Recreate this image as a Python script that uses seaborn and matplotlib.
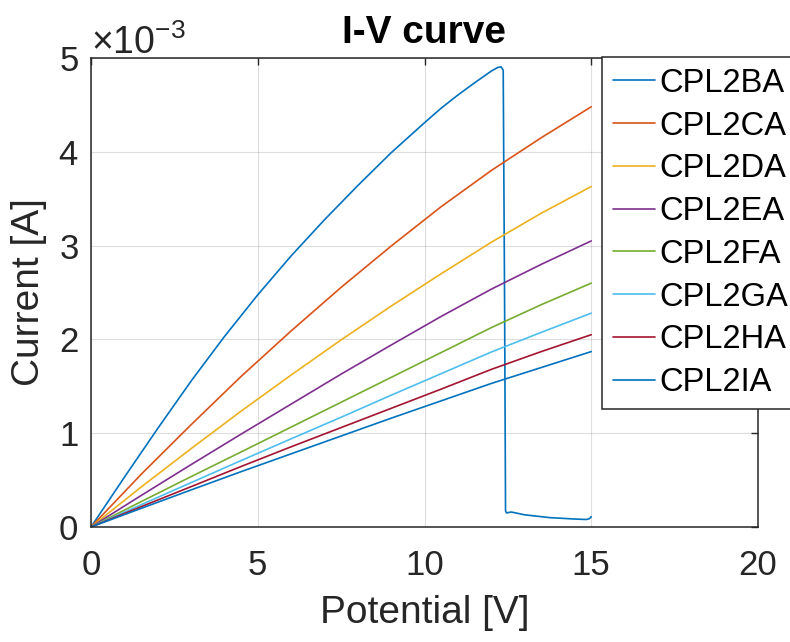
import numpy as np
import pandas as pd
import matplotlib
matplotlib.use("Agg")
import matplotlib.pyplot as plt
import matplotlib.ticker as mticker
import seaborn as sns

# ---- data (current in mA, plotted in A) ----
series_names = ["CPL2BA", "CPL2CA", "CPL2DA", "CPL2EA", "CPL2FA", "CPL2GA", "CPL2HA", "CPL2IA"]

v_ba = [0, 1, 2, 3, 4, 5, 6, 7, 8, 9, 10, 10.5, 11, 11.5, 11.8, 12.0, 12.2, 12.3, 12.36,
        12.40, 12.43, 12.46, 12.6, 13.0, 13.75, 14.5, 14.85, 14.95, 15.0]
i_ba = [0, 0.53, 1.05, 1.555, 2.03, 2.475, 2.89, 3.275, 3.64, 3.99, 4.31, 4.465, 4.605, 4.735, 4.81, 4.86, 4.90, 4.905, 4.87,
        2.50, 0.17, 0.15, 0.16, 0.13, 0.10, 0.085, 0.08, 0.09, 0.11]

v_std = [0, 1.5, 3, 4.5, 6, 7.5, 9, 10.5, 12, 13.5, 15]
i_ca = [0, 0.56, 1.09, 1.605, 2.09, 2.555, 2.995, 3.415, 3.80, 4.15, 4.48]
i_da = [0, 0.425, 0.835, 1.235, 1.62, 1.995, 2.355, 2.70, 3.035, 3.345, 3.63]
i_ea = [0, 0.335, 0.665, 0.99, 1.31, 1.63, 1.94, 2.245, 2.535, 2.80, 3.05]
i_fa = [0, 0.27, 0.537, 0.80, 1.065, 1.33, 1.595, 1.86, 2.125, 2.37, 2.60]
i_ga = [0, 0.237, 0.473, 0.708, 0.94, 1.17, 1.405, 1.635, 1.865, 2.075, 2.28]
i_ha = [0, 0.216, 0.43, 0.645, 0.855, 1.06, 1.265, 1.47, 1.68, 1.87, 2.05]
i_ia = [0, 0.198, 0.395, 0.59, 0.78, 0.97, 1.16, 1.345, 1.53, 1.70, 1.87]

colors = ["#0072BD", "#D95319", "#EDB120", "#7E2F8E", "#77AC30", "#4DBEEE", "#A2142F", "#0072BD"]

xs = [v_ba] + [v_std] * 7
ys = [i_ba, i_ca, i_da, i_ea, i_fa, i_ga, i_ha, i_ia]

rows = []
for name, vx, iy in zip(series_names, xs, ys):
    for k, (a, b) in enumerate(zip(vx, iy)):
        rows.append({"series": name, "order": k, "V": a, "I": b * 1e-3})
df = pd.DataFrame(rows)

# ---- style ----
sns.set_theme(style="white")
plt.rcParams["font.family"] = ["Liberation Sans", "DejaVu Sans"]
plt.rcParams["mathtext.fontset"] = "custom"
plt.rcParams["mathtext.rm"] = "Liberation Sans"
plt.rcParams["mathtext.it"] = "Liberation Sans"
plt.rcParams["mathtext.bf"] = "Liberation Sans:bold"
dark = "#262626"

fig = plt.figure(figsize=(7.9, 6.42), dpi=100)
ax = fig.add_axes([91 / 790, 1 - 527 / 642, (758 - 91) / 790, (527 - 58) / 642])

sns.lineplot(data=df, x="V", y="I", hue="series", hue_order=series_names,
             palette=colors, sort=False, estimator=None, units="series",
             linewidth=1.2, ax=ax, legend=False)

ax.set_xlim(0, 20)
ax.set_ylim(0, 5e-3)
ax.set_xticks([0, 5, 10, 15, 20])
ax.set_yticks(np.arange(0, 6) * 1e-3)
fmt = mticker.ScalarFormatter(useMathText=True)
fmt.set_powerlimits((-3, -3))
ax.yaxis.set_major_formatter(fmt)
ax.yaxis.get_offset_text().set_fontsize(27)
ax.yaxis.get_offset_text().set_color(dark)

ax.grid(True, color=dark, alpha=0.15, linewidth=0.8)
for s in ax.spines.values():
    s.set_color(dark)
    s.set_linewidth(1.1)
ax.tick_params(axis="both", which="major", direction="in", length=5, width=1.0,
               color=dark, labelcolor=dark, labelsize=25, top=True, right=True)
ax.tick_params(axis="x", pad=16)
ax.tick_params(axis="y", pad=9)

ax.set_xlabel("Potential [V]", fontsize=28, color=dark, labelpad=9)
ax.set_ylabel("Current [A]", fontsize=28, color=dark, labelpad=8)
ax.set_title("I-V curve", fontsize=28, fontweight="bold", color="black", pad=11)

handles = [plt.Line2D([], [], color=c, linewidth=1.2) for c in colors]
leg = fig.legend(handles, series_names, loc="upper left",
                 bbox_to_anchor=(602 / 790, 1 - 57 / 642), fontsize=23.5,
                 frameon=True, fancybox=False, borderpad=0.33, borderaxespad=0,
                 handlelength=1.3, handletextpad=0.12, labelspacing=0.36)
leg.get_frame().set_edgecolor(dark)
leg.get_frame().set_linewidth(1.1)
leg.get_frame().set_alpha(1)
for t in leg.get_texts():
    t.set_color("black")

fig.savefig("out.png", dpi=100)
